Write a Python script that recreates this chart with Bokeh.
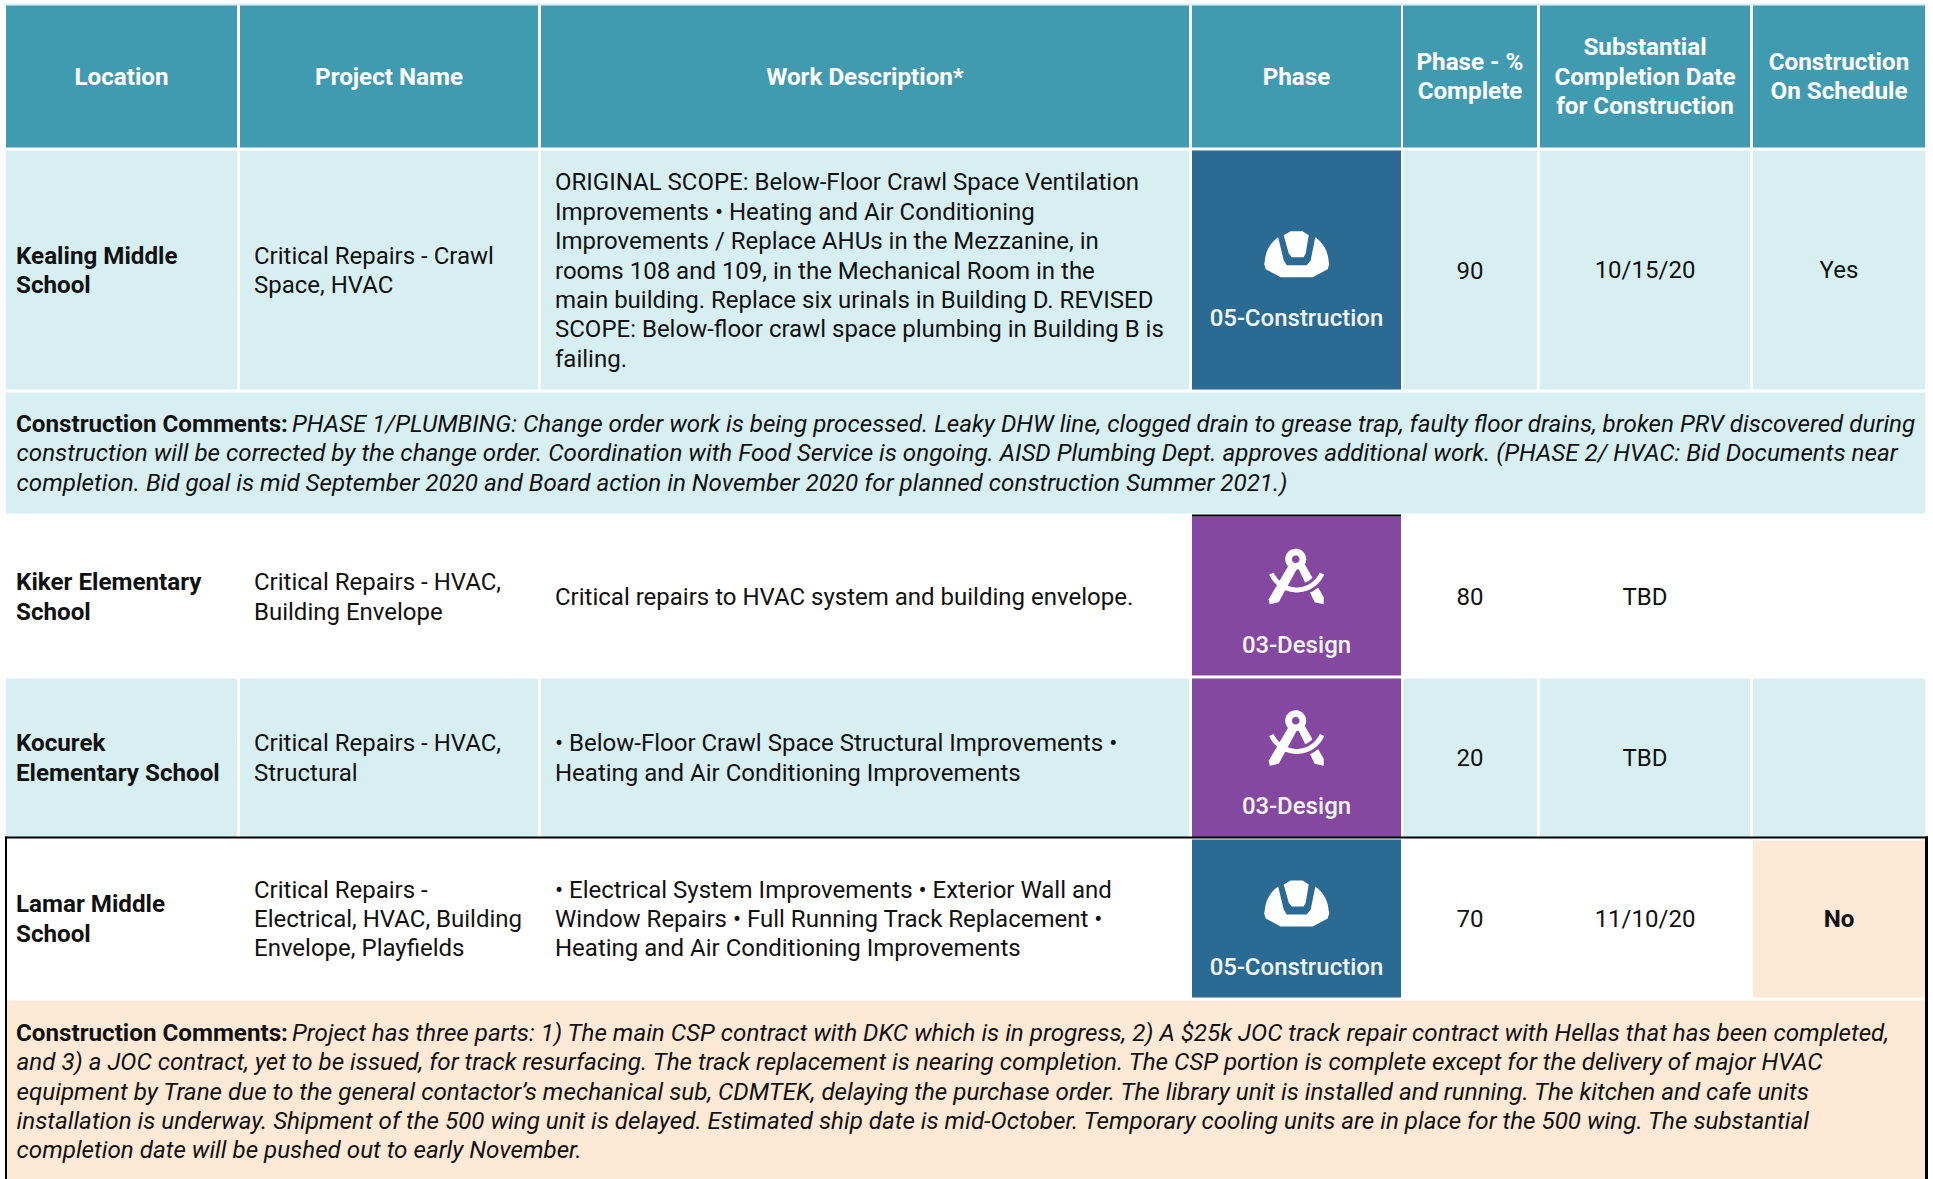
from bokeh.plotting import figure
from bokeh.models import Range1d
from bokeh.core.properties import value
from bokeh.embed import file_html
from bokeh.resources import INLINE
import numpy as np

# ---------- table content ----------
headers = [["Location"], ["Project Name"], ["Work Description*"], ["Phase"],
           ["Phase - %", "Complete"], ["Substantial", "Completion Date", "for Construction"],
           ["Construction", "On Schedule"]]
locations = [["Kealing Middle", "School"], ["Kiker Elementary", "School"],
             ["Kocurek", "Elementary School"], ["Lamar Middle", "School"]]
projects = [["Critical Repairs - Crawl", "Space, HVAC"],
            ["Critical Repairs - HVAC,", "Building Envelope"],
            ["Critical Repairs - HVAC,", "Structural"],
            ["Critical Repairs -", "Electrical, HVAC, Building", "Envelope, Playfields"]]
works = [["ORIGINAL SCOPE: Below-Floor Crawl Space Ventilation",
          "Improvements • Heating and Air Conditioning",
          "Improvements / Replace AHUs in the Mezzanine, in",
          "rooms 108 and 109, in the Mechanical Room in the",
          "main building. Replace six urinals in Building D. REVISED",
          "SCOPE: Below-floor crawl space plumbing in Building B is",
          "failing."],
         ["Critical repairs to HVAC system and building envelope."],
         ["• Below-Floor Crawl Space Structural Improvements •",
          "Heating and Air Conditioning Improvements"],
         ["• Electrical System Improvements • Exterior Wall and",
          "Window Repairs • Full Running Track Replacement •",
          "Heating and Air Conditioning Improvements"]]
phases = ["05-Construction", "03-Design", "03-Design", "05-Construction"]
percents = ["90", "80", "20", "70"]
dates = ["10/15/20", "TBD", "TBD", "11/10/20"]
on_schedule = ["Yes", "", "", "No"]
comment_label = "Construction Comments:"
comment_1 = ["PHASE 1/PLUMBING: Change order work is being processed. Leaky DHW line, clogged drain to grease trap, faulty floor drains, broken PRV discovered during",
             "construction will be corrected by the change order. Coordination with Food Service is ongoing. AISD Plumbing Dept. approves additional work. (PHASE 2/ HVAC: Bid Documents near",
             "completion. Bid goal is mid September 2020 and Board action in November 2020 for planned construction Summer 2021.)"]
comment_2 = ["Project has three parts: 1) The main CSP contract with DKC which is in progress, 2) A $25k JOC track repair contract with Hellas that has been completed,",
             "and 3) a JOC contract, yet to be issued, for track resurfacing. The track replacement is nearing completion. The CSP portion is complete except for the delivery of major HVAC",
             "equipment by Trane due to the general contactor’s mechanical sub, CDMTEK, delaying the purchase order. The library unit is installed and running. The kitchen and cafe units",
             "installation is underway. Shipment of the 500 wing unit is delayed. Estimated ship date is mid-October. Temporary cooling units are in place for the 500 wing. The substantial",
             "completion date will be pushed out to early November."]

# ---------- layout (page pixels) ----------
W, H = 1933, 1179
col_l = [6, 240, 541, 1192, 1403, 1540, 1753]
col_r = [237, 538, 1189, 1401, 1537, 1750, 1925]
col_c = [(a + b) / 2 for a, b in zip(col_l, col_r)]
row_t = [150, 516, 678, 839]
row_b = [389, 675, 837, 997]
row_c = [270, 596.5, 757.5, 918.5]
LH = 29.35
FS = "24px"
FS2 = "24.2px"
TEAL, LIGHT, PEACH = "#419BB0", "#D8EFF2", "#FDE9D6"
BLUE, PURPLE = "#2B6A92", "#8548A0"
INK = "#111111"

p = figure(width=W, height=H, x_range=Range1d(0.5, W + 0.5), y_range=Range1d(H, 0),
           output_backend="svg", toolbar_location=None, min_border=0,
           outline_line_color=None, background_fill_color="white",
           border_fill_color="white")
p.xaxis.visible = False
p.yaxis.visible = False
p.grid.visible = False


def put(x, y, lines, color=INK, style="normal", align="left", font="Roboto", size=None):
    n = len(lines)
    size = size or (FS2 if style != "normal" else FS)
    ys = [y + (i - (n - 1) / 2) * LH for i in range(n)]
    p.text([x] * n, ys, text=lines, text_color=color, text_font=value(font),
           text_font_size=size, text_font_style=style, text_align=align,
           text_baseline="middle")


def box(l, r, t, b, c):
    p.quad(left=[l], right=[r], top=[t], bottom=[b], fill_color=c, line_color=None)


# backgrounds
box(4, 1927, 3, 5, LIGHT)
for i in range(7):
    box(col_l[i], col_r[i], 5, 147, TEAL)
row_bg = [LIGHT, "white", LIGHT, "white"]
for r in range(4):
    for i in range(7):
        if row_bg[r] != "white":
            box(col_l[i], col_r[i], row_t[r], row_b[r], row_bg[r])
box(6, 1925, 392, 513, LIGHT)
box(1753, 1925, 840, 997, PEACH)
box(6, 1925, 1000, 1179, PEACH)

# phase cells
phase_col = [BLUE, PURPLE, PURPLE, BLUE]
for r in range(4):
    box(col_l[3], col_r[3], row_t[r], row_b[r], phase_col[r])
box(col_l[3], col_r[3], 514, 516, "black")

# black frame
box(5, 7, 836, 1179, "black")
box(5, 1928, 836, 838, "black")
box(1925, 1928, 836, 1179, "black")


def hat(cx, cy, bg):
    a = np.linspace(np.pi * 1.02, np.pi * 1.98, 40)
    xs = list(cx + 32 * np.cos(a)) + [cx + 32.5, cx + 31, cx + 16, cx - 16, cx - 31, cx - 32.5]
    ys = list(cy + 2 + 32 * np.sin(a)) + [cy + 3, cy + 8, cy + 16, cy + 16, cy + 8, cy + 3]
    p.patch(xs, ys, fill_color="white", line_color=None)
    p.patch([cx - 19, cx - 13, cx - 10, cx + 10, cx + 14, cx + 19, cx + 11, cx - 12],
            [cy - 26, cy - 1, cy + 4, cy + 4, cy - 1, cy - 26, cy - 35, cy - 35],
            fill_color=bg, line_color=None)
    p.patch([cx - 13, cx - 8, cx - 5, cx + 7, cx + 9, cx + 12, cx + 6, cx - 6],
            [cy - 26, cy - 8, cy - 4, cy - 4, cy - 8, cy - 26, cy - 30, cy - 30],
            fill_color="white", line_color=None)


def compass(cx, cy, bg):
    wh = "white"
    # right leg
    p.patch([cx + 3, cx + 9, cx + 28, cx + 28, cx + 19, cx + 3],
            [cy + 6, cy + 5, cy + 38, cy + 45, cy + 43, cy + 10], fill_color=wh, line_color=None)
    # arc halo and arc
    a = np.linspace(np.radians(24), np.radians(156), 40)
    ax = cx + 1 + 27.7 * np.cos(a)
    ay = cy + 3 + 27.7 * np.sin(a)
    p.line(list(ax), list(ay), line_color=bg, line_width=11)
    # left leg
    p.patch([cx - 7, cx + 1, cx - 17, cx - 26, cx - 27],
            [cy + 6, cy + 10, cy + 43, cy + 45, cy + 40], fill_color=wh, line_color=None)
    p.line(list(ax), list(ay), line_color=wh, line_width=5)
    # hinge
    th = np.linspace(0, 2 * np.pi, 40)
    p.patch(list(cx + 10.5 * np.cos(th)), list(cy + 10.5 * np.sin(th)), fill_color=wh, line_color=None)
    p.patch(list(cx + 3.8 * np.cos(th)), list(cy + 3.8 * np.sin(th)), fill_color=bg, line_color=None)


# headers
for i, h in enumerate(headers):
    put(col_c[i], 76, h, color="white", style="bold", align="center")

# rows
for r in range(4):
    put(16, row_c[r], locations[r], style="bold")
    put(254, row_c[r], projects[r])
    put(555, row_c[r], works[r])
    put(col_c[4], row_c[r] - 0.5, [percents[r]], align="center")
    put(col_c[5], row_c[r] - 0.5, [dates[r]], align="center")
    put(col_c[6], row_c[r] - 0.5, [on_schedule[r]], align="center", style="bold" if r == 3 else "normal")
    put(col_c[3], row_c[r] + 47.5, [phases[r]], color="#F1F5F8", align="center", font="Roboto Medium")

hat(1296.7, 260.7, BLUE)
compass(1295.7, 558.7, PURPLE)
compass(1295.7, 720.2, PURPLE)
hat(1296.7, 910, BLUE)


# comments
def italic(x, ys, lines):
    p.text([x] * len(lines), ys, text=lines, text_font=value("Roboto"), text_font_size=FS2,
           text_font_style="italic", text_color=INK, text_baseline="middle")


put(16, 423.5, [comment_label], style="bold")
italic(292, [423.5], comment_1[:1])
italic(16.5, [452.9, 482.2], comment_1[1:])
put(16, 1032.5, [comment_label], style="bold")
italic(292, [1032.5], comment_2[:1])
italic(16.5, [1061.8, 1091.2, 1120.5, 1149.8], comment_2[1:])

open("out.html", "w").write(file_html(p, INLINE))
